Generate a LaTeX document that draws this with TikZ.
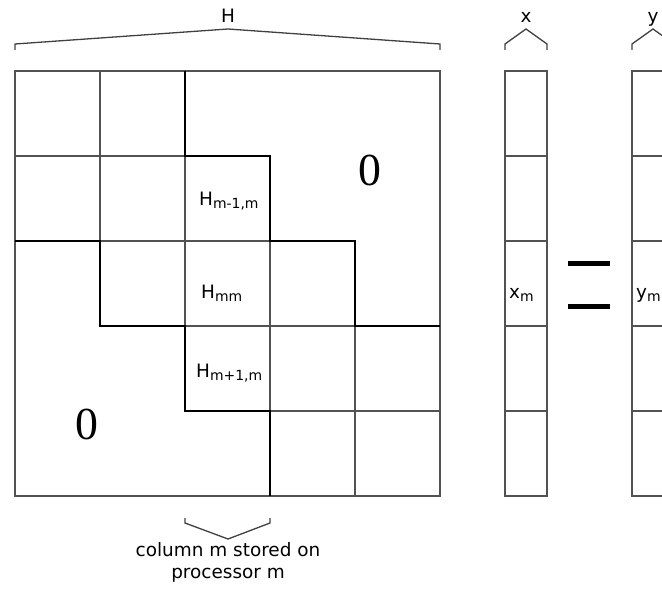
\documentclass[tikz,border=0pt]{standalone}
\usepackage{fontspec}
\newfontfamily\labfont{DejaVu Sans}
\newfontfamily\zerofont{Liberation Serif}
\newcommand\lowidx[1]{\raisebox{-0.35ex}{\fontsize{14}{14}\selectfont #1}}
\begin{document}
\begin{tikzpicture}[x=1bp,y=-1bp,
  thinline/.style={draw=black!68,line width=1.3bp},
  thickline/.style={draw=black,line width=2.5bp,line join=miter},
  bracket/.style={draw=black!75,line width=1.3bp,line join=miter},
  lab/.style={inner sep=0pt,font=\labfont\fontsize{18.5}{22}\selectfont},
  zerolab/.style={inner sep=0pt,font=\zerofont\fontsize{46}{46}\selectfont}]
\useasboundingbox (0,0) rectangle (662,591);

% block matrix: outer frame and the inner cell edges
\draw[thinline] (15,71) rectangle (440,496);
\draw[thinline] (100,71) -- (100,241);
\draw[thinline] (185,156) -- (185,326);
\draw[thinline] (270,241) -- (270,411);
\draw[thinline] (355,326) -- (355,496);
\draw[thinline] (15,156) -- (185,156);
\draw[thinline] (100,241) -- (270,241);
\draw[thinline] (185,326) -- (355,326);
\draw[thinline] (270,411) -- (440,411);

% band boundaries
\draw[thickline] (185,71) -- (185,156) -- (270,156) -- (270,241)
  -- (355,241) -- (355,326) -- (440,326);
\draw[thickline] (15,241) -- (100,241) -- (100,326) -- (185,326)
  -- (185,411) -- (270,411) -- (270,496);

% block labels
\node[lab,anchor=base west] (hup) at (199,205) {H\lowidx{m-1,m}};
\node[lab,anchor=base west] (hmid) at (201,298) {H\lowidx{mm}};
\node[lab,anchor=base west] (hlow) at (196,377) {H\lowidx{m+1,m}};
\node[zerolab] (zup) at (370,170) {0};
\node[zerolab] (zlow) at (87,424) {0};

% vectors x and y
\foreach \xl/\xr in {505/547,632/674}{
  \draw[thinline] (\xl,71) rectangle (\xr,496);
  \foreach \yy in {156,241,326,411}
    \draw[thinline] (\xl,\yy) -- (\xr,\yy);
}
\node[lab,anchor=base west] (xm) at (509,298) {x\lowidx{m}};
\node[lab,anchor=base west] (ym) at (636,298) {y\lowidx{m}};

% equals sign
\draw[line width=5bp] (568,263) -- (610,263);
\draw[line width=5bp] (568,306) -- (610,306);

% brackets with their labels
\draw[bracket] (15,50) -- (15,44) -- (228,29) -- (440,44) -- (440,50);
\node[lab,anchor=base] (hname) at (228,23) {H};
\draw[bracket] (505,50) -- (505,44) -- (526,29) -- (547,44) -- (547,50);
\node[lab,anchor=base] (xname) at (526,23) {x};
\draw[bracket] (632,50) -- (632,44) -- (653,29) -- (674,44) -- (674,50);
\node[lab,anchor=base] (yname) at (653,23) {y};
\draw[bracket] (185,518) -- (185,523) -- (228,539) -- (270,523) -- (270,518);
\node[lab,anchor=north,align=center] (colnote) at (228,542)
  {column m stored on\\processor m};
\end{tikzpicture}
\end{document}
